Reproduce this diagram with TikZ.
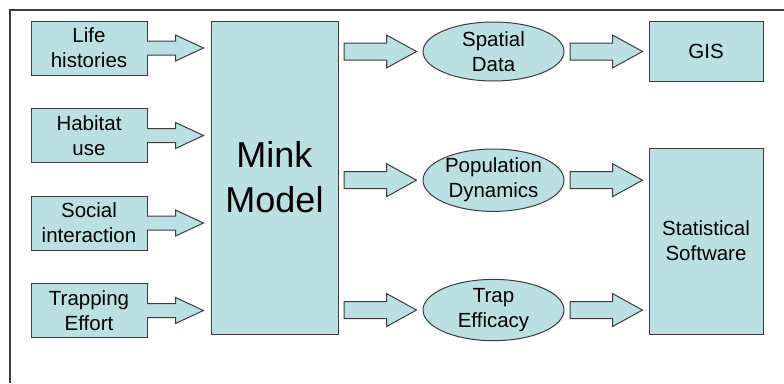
\documentclass[tikz,border=0pt]{standalone}
\usepackage{fontspec}
\setmainfont{Liberation Sans}
\usetikzlibrary{calc,positioning,shapes.geometric}
\definecolor{pptfill}{RGB}{187,224,227}
\definecolor{pptline}{RGB}{60,60,60}
\tikzset{box/.style={draw=pptline,fill=pptfill,line width=1pt,align=center,inner sep=0pt,
    font=\fontsize{20.5}{25}\selectfont},
  src/.style={box,minimum width=116pt,minimum height=54pt},
  blob/.style={box,ellipse,minimum width=141pt,minimum height=59pt},
  fat/.style={draw=pptline,fill=pptfill,line width=1pt,line join=miter}}

% block arrow glued to the box it leaves (open back, so the fill hides the border)
\newcommand{\feedarrow}[2]{%
  \filldraw[fat] let \p1=(#1), \p2=(#2) in
    (\x1-0.5pt,\y1+7pt) -- (\x2-35pt,\y1+7pt) -- (\x2-35pt,\y1+13pt) -- (\x2-7pt,\y1)
    -- (\x2-35pt,\y1-13pt) -- (\x2-35pt,\y1-7pt) -- (\x1-0.5pt,\y1-7pt);}
% free standing block arrow between two nodes
\newcommand{\outarrow}[2]{%
  \filldraw[fat] let \p1=(#1), \p2=(#2) in
    (\x1+5.5pt,\y1+8.5pt) -- (\x2-36pt,\y1+8.5pt) -- (\x2-36pt,\y1+16.5pt) -- (\x2-6pt,\y1)
    -- (\x2-36pt,\y1-16.5pt) -- (\x2-36pt,\y1-8.5pt) -- (\x1+5.5pt,\y1-8.5pt) -- cycle;}

\begin{document}
\begin{tikzpicture}[x=1pt,y=-1pt]
\useasboundingbox (0,0) rectangle (784,383);
\draw[pptline,line width=1.5pt] (784,10) -- (10,10) -- (10,383);

% inputs
\node[src] (life) at (89,48) {Life\\histories};
\node[src,below=32.5pt of life] (habitat) {Habitat\\use};
\node[src,below=32.5pt of habitat] (social) {Social\\interaction};
\node[src,below=32.5pt of social] (trapping) {Trapping\\Effort};

\node[box,minimum width=127pt,minimum height=313pt,font=\fontsize{36}{45}\selectfont]
  (mink) at (274.5,177.5) {Mink\\Model};

% outputs
\node[blob] (spatial) at (493.5,51.5) {Spatial\\Data};
\node[blob,below=67pt of spatial] (popdyn) {Population\\Dynamics};
\node[blob,below=67pt of popdyn] (efficacy) {Trap\\Efficacy};

\node[box,minimum width=114pt,minimum height=60pt] (gis) at (706,51) {GIS};
\node[box,minimum width=114pt,minimum height=186pt] (stats) at (706,241) {Statistical\\Software};

\foreach \inp in {life,habitat,social,trapping}
  \feedarrow{\inp.east}{mink.west};

\foreach \res in {spatial,popdyn,efficacy}
  \outarrow{mink.east |- \res.west}{\res.west};

\outarrow{spatial.east}{gis.west}
\outarrow{popdyn.east}{stats.west}
\outarrow{efficacy.east}{stats.west}
\end{tikzpicture}
\end{document}
